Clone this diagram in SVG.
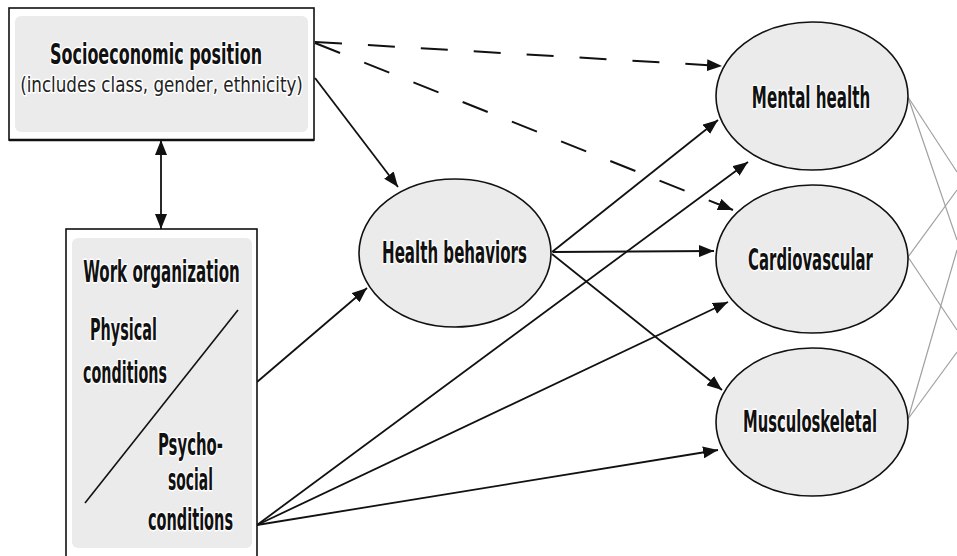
<svg xmlns="http://www.w3.org/2000/svg" width="957" height="556" viewBox="0 0 957 556">
  <style>
    .box { fill: #ffffff; stroke: #111; stroke-width: 1.6; }
    .box-in { fill: #ebebeb; stroke: none; }
    .ell { fill: #ebebeb; stroke: #111; stroke-width: 1.6; }
    .lbl { font-family: "Liberation Sans Narrow", "DejaVu Sans Condensed", "Liberation Sans", sans-serif; font-weight: bold; font-size: 30px; fill: #111;
           text-anchor: middle; stroke: #ffffff; stroke-width: 3; stroke-linejoin: round; paint-order: stroke; }
    .sub { font-family: "Liberation Sans Narrow", "DejaVu Sans Condensed", "Liberation Sans", sans-serif; font-size: 22px; fill: #222;
           text-anchor: middle; stroke: #ffffff; stroke-width: 3; stroke-linejoin: round; paint-order: stroke; }
    .arr { fill: none; stroke: #111; stroke-width: 1.8; marker-end: url(#head); }
    .dash { stroke-width: 2; stroke-dasharray: 27 26; }
    .out { fill: none; stroke: #a0a0a0; stroke-width: 1.2; }
  </style>
  <defs>
    <marker id="head" viewBox="0 0 15 12" refX="15" refY="6" markerWidth="15" markerHeight="12" markerUnits="userSpaceOnUse" orient="auto-start-reverse">
      <path d="M0,0 L15,6 L0,12 Z" fill="#111"/>
    </marker>
  </defs>

  <!-- outgoing links to the right -->
  <g id="links-out">
    <path class="out" d="M908,97 L957,172"/>
    <path class="out" d="M908,97 L957,240"/>
    <path class="out" d="M908,257 L957,190"/>
    <path class="out" d="M908,257 L957,330"/>
    <path class="out" d="M908,419 L957,250"/>
    <path class="out" d="M908,419 L957,352"/>
  </g>

  <!-- connectors -->
  <g id="connectors">
    <path class="arr dash" d="M315,42 L722,66"/>
    <path class="arr dash" d="M315,43 L733,210"/>
    <path class="arr" d="M315,78 L398,187"/>
    <path class="arr" d="M161,140 L161,229" marker-start="url(#head)"/>
    <path class="arr" d="M257,382 L367,288"/>
    <path class="arr" d="M552,252 L718,120"/>
    <path class="arr" d="M553,252 L714,251"/>
    <path class="arr" d="M552,254 L722,390"/>
    <path class="arr" d="M257,525 L748,162"/>
    <path class="arr" d="M257,525 L728,302"/>
    <path class="arr" d="M257,525 L718,450"/>
  </g>

  <!-- socioeconomic position -->
  <g id="node-sep">
    <rect class="box" x="9" y="8" width="305" height="132"/>
    <rect class="box-in" x="15" y="16" width="293" height="116" rx="6"/>
    <line x1="9" y1="140" x2="314" y2="140" stroke="#111" stroke-width="2.6"/>
    <text class="lbl" style="font-size:28px" transform="translate(156,64) scale(0.7,1)" textLength="303" lengthAdjust="spacingAndGlyphs">Socioeconomic position</text>
    <text class="sub" transform="translate(161.5,92) scale(0.75,1)" textLength="377" lengthAdjust="spacingAndGlyphs">(includes class, gender, ethnicity)</text>
  </g>

  <!-- work organization -->
  <g id="node-work">
    <rect class="box" x="66" y="229" width="191" height="345"/>
    <rect class="box-in" x="72" y="238" width="180" height="310" rx="6"/>
    <line x1="238" y1="310" x2="85" y2="503" stroke="#111" stroke-width="1.6"/>
    <text class="lbl" transform="translate(161.5,282) scale(0.65,1)" textLength="241" lengthAdjust="spacingAndGlyphs">Work organization</text>
    <text class="lbl" transform="translate(123.5,340) scale(0.65,1)" textLength="103" lengthAdjust="spacingAndGlyphs">Physical</text>
    <text class="lbl" transform="translate(125,383) scale(0.65,1)" textLength="129" lengthAdjust="spacingAndGlyphs">conditions</text>
    <text class="lbl" transform="translate(190.5,455) scale(0.65,1)" textLength="100" lengthAdjust="spacingAndGlyphs">Psycho-</text>
    <text class="lbl" transform="translate(190.5,490) scale(0.65,1)" textLength="69" lengthAdjust="spacingAndGlyphs">social</text>
    <text class="lbl" transform="translate(190.5,530) scale(0.65,1)" textLength="131" lengthAdjust="spacingAndGlyphs">conditions</text>
  </g>

  <!-- health behaviors -->
  <g id="node-health-behaviors">
    <ellipse class="ell" cx="455" cy="253" rx="96" ry="74"/>
    <text class="lbl" transform="translate(454.5,263) scale(0.65,1)" textLength="223" lengthAdjust="spacingAndGlyphs">Health behaviors</text>
  </g>

  <!-- outcomes -->
  <g id="node-mental">
    <ellipse class="ell" cx="812" cy="96" rx="96" ry="74"/>
    <text class="lbl" transform="translate(811,108) scale(0.65,1)" textLength="182" lengthAdjust="spacingAndGlyphs">Mental health</text>
  </g>
  <g id="node-cardio">
    <ellipse class="ell" cx="812" cy="259" rx="96" ry="74"/>
    <text class="lbl" transform="translate(810.5,270) scale(0.65,1)" textLength="192" lengthAdjust="spacingAndGlyphs">Cardiovascular</text>
  </g>
  <g id="node-musculo">
    <ellipse class="ell" cx="812" cy="422" rx="96" ry="74"/>
    <text class="lbl" transform="translate(810,432) scale(0.65,1)" textLength="206" lengthAdjust="spacingAndGlyphs">Musculoskeletal</text>
  </g>
</svg>
